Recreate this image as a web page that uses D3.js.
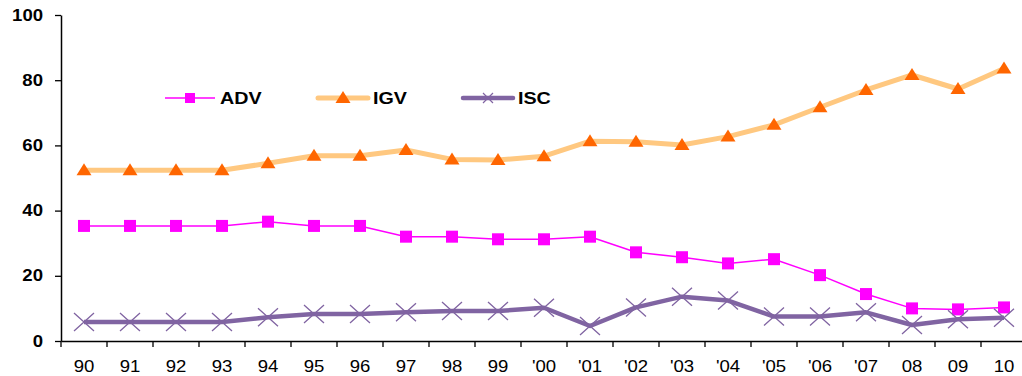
<!DOCTYPE html>
<html>
<head>
<meta charset="utf-8">
<script src="https://cdn.jsdelivr.net/npm/d3@7"></script>
<style>
  body { margin: 0; background: #fff; }
  svg { display: block; font-family: Arial, "Liberation Sans", sans-serif; }
</style>
</head>
<body>
<svg id="chart" width="1022" height="376"></svg>
<script>
var years = ["90","91","92","93","94","95","96","97","98","99","'00","'01","'02","'03","'04","'05","'06","'07","08","09","10"];
var adv = [35.3,35.3,35.3,35.3,36.6,35.3,35.3,32,32,31.2,31.2,32,27.2,25.7,23.8,25.1,20.2,14.4,10,9.7,10.3];
var igv = [52.4,52.4,52.4,52.4,54.5,56.8,56.8,58.6,55.7,55.5,56.7,61.3,61.1,60.1,62.7,66.3,71.7,77,81.6,77.3,83.6];
var isc = [5.8,5.8,5.8,5.8,7.3,8.3,8.3,8.8,9.2,9.2,10.2,4.6,10.3,13.6,12.4,7.5,7.5,8.8,4.9,6.7,7.1];
var yTicks = [0,20,40,60,80,100];

var series = [
  {name: "ADV", values: adv, line: "#FF00FF", width: 1.5, marker: "square", fill: "#FF00FF"},
  {name: "IGV", values: igv, line: "#FFC880", width: 5, marker: "triangle", fill: "#FF6600"},
  {name: "ISC", values: isc, line: "#8064A2", width: 4.5, marker: "cross", fill: "#8064A2"}
];

var svg = d3.select("#chart");
var x = d3.scaleBand().domain(years).range([61, 1027]);
var y = d3.scaleLinear().domain([0, 100]).range([341, 15]);
var cx = function(i){ return x(years[i]) + x.bandwidth()/2; };
var sx = 1.16; // text in the picture is stretched sideways

// y axis
var yAxis = svg.append("g").attr("transform", "translate(61,0)")
  .call(d3.axisLeft(y).tickValues(yTicks).tickSize(6).tickPadding(12).tickSizeOuter(0));
yAxis.select(".domain").attr("stroke", "#000").attr("stroke-width", 1.5);
yAxis.selectAll(".tick line").attr("stroke", "#000").attr("stroke-width", 1.3);
yAxis.selectAll(".tick text")
  .attr("font-size", 16).attr("font-weight", "bold").attr("fill", "#000")
  .attr("transform", function(){ var xx = +d3.select(this).attr("x"); return "translate(" + (xx - xx*sx) + ",0) scale(" + sx + ",1)"; });

// x axis
var xAxis = svg.append("g").attr("transform", "translate(0,341)")
  .call(d3.axisBottom(x).tickSize(0).tickPadding(20).tickSizeOuter(0));
xAxis.select(".domain").attr("stroke", "#000").attr("stroke-width", 1.5);
xAxis.selectAll(".tick text")
  .attr("font-size", 16).attr("fill", "#000")
  .attr("transform", "scale(" + sx + ",1)");
xAxis.selectAll("line.bound")
  .data(years).enter().append("line").attr("class", "bound")
  .attr("x1", function(d){ return x(d); }).attr("x2", function(d){ return x(d); })
  .attr("y1", 0).attr("y2", 6)
  .attr("stroke", "#000").attr("stroke-width", 1.3);

function drawMarker(g, type, fill) {
  if (type == "square") {
    g.append("rect").attr("x", -6).attr("y", -6).attr("width", 12).attr("height", 12).attr("fill", fill);
  } else if (type == "triangle") {
    g.append("path").attr("d", "M0,-7L7.5,5L-7.5,5Z").attr("fill", fill);
  } else {
    g.append("path").attr("d", "M-10,-9L10,9M-10,9L10,-9").attr("stroke", fill).attr("stroke-width", 1.3).attr("fill", "none");
  }
}

var line = d3.line().x(function(d, i){ return cx(i); }).y(function(d){ return y(d); });

series.forEach(function(s){
  var g = svg.append("g").attr("class", "series");
  g.append("path").datum(s.values)
    .attr("d", line)
    .attr("fill", "none").attr("stroke", s.line).attr("stroke-width", s.width)
    .attr("stroke-linejoin", "round");
  g.selectAll("g.pt").data(s.values).enter()
    .append("g").attr("class", "pt")
    .attr("transform", function(d, i){ return "translate(" + cx(i) + "," + y(d) + ")"; })
    .each(function(){ drawMarker(d3.select(this), s.marker, s.fill); });
});

// legend
var legendX = [165, 318, 463];
var leg = svg.append("g").attr("class", "legend");
series.forEach(function(s, i){
  var lg = leg.append("g").attr("transform", "translate(" + legendX[i] + ",98)");
  lg.append("line").attr("x1", 0).attr("x2", 50).attr("y1", 0).attr("y2", 0)
    .attr("stroke", s.line).attr("stroke-width", s.width).attr("stroke-linecap", s.width > 2 ? "round" : "butt");
  var m = lg.append("g").attr("transform", "translate(25,0)");
  if (s.marker == "cross") {
    m.append("path").attr("d", "M-5,-5L5,5M-5,5L5,-5").attr("stroke", s.fill).attr("stroke-width", 1.2);
  } else if (s.marker == "square") {
    m.append("rect").attr("x", -5).attr("y", -5).attr("width", 10).attr("height", 10).attr("fill", s.fill);
  } else {
    drawMarker(m, s.marker, s.fill);
  }
  lg.append("text").attr("x", 55 / sx).attr("y", 6)
    .attr("transform", "scale(" + sx + ",1)")
    .attr("font-size", 17).attr("font-weight", "bold").attr("fill", "#000")
    .text(s.name);
});
</script>
</body>
</html>
